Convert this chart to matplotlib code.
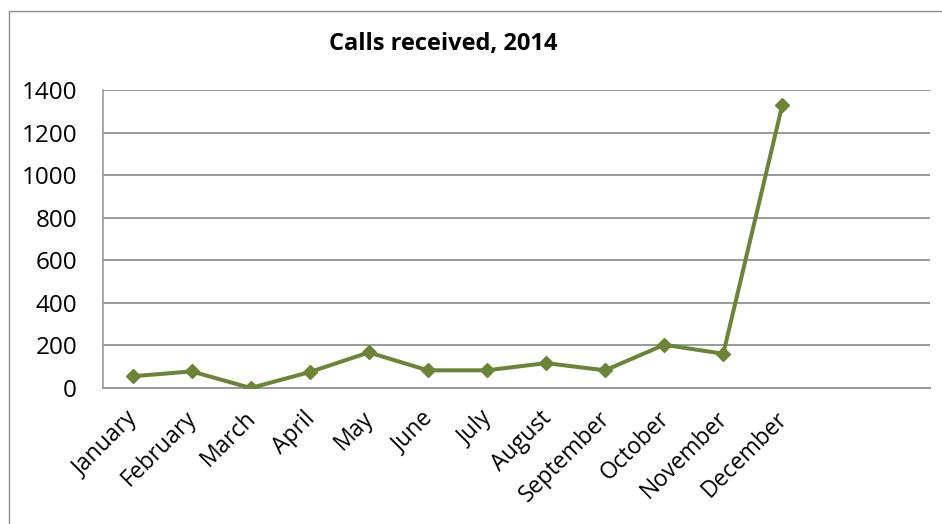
import matplotlib
matplotlib.use("Agg")
import matplotlib.pyplot as plt
import matplotlib.transforms as mtransforms
from matplotlib.patches import Rectangle

months = ["January", "February", "March", "April", "May", "June", "July",
          "August", "September", "October", "November", "December"]
calls = [55, 78, 0, 75, 167, 83, 83, 117, 83, 203, 161, 1330]
yticks = [0, 200, 400, 600, 800, 1000, 1200, 1400]

LINE = "#6a8535"
GRID = "#9a9a9a"

plt.rcParams["font.family"] = ["Open Sans", "DejaVu Sans"]

fig = plt.figure(figsize=(9.42, 5.24), dpi=100)
ax = fig.add_axes([103 / 942, 1 - 388 / 524, 827 / 942, 298 / 524])

# chart frame (cropped on the right and bottom)
fig.patches.append(Rectangle((9 / 942, -0.1), 1.2, 1 - 11 / 524 + 0.1,
                             transform=fig.transFigure, fill=False,
                             edgecolor="#8c8c8c", lw=1.0, zorder=0))

x = list(range(len(months)))
ax.plot(x, calls, color=LINE, lw=2.9, marker="D", markersize=7,
        markerfacecolor=LINE, markeredgecolor=LINE, zorder=3,
        solid_joinstyle="round")

ax.set_xlim(-0.5, 13.5)
ax.set_ylim(0, 1400)
ax.set_yticks(yticks)
ax.set_yticklabels([str(v) for v in yticks], fontsize=17.5)
ax.set_xticks(x)
ax.set_xticklabels(months, fontsize=16.5, rotation=45, ha="right",
                   rotation_mode="anchor")
ax.tick_params(axis="both", length=0)
ax.tick_params(axis="y", pad=18.7)
ax.tick_params(axis="x", pad=12)

# nudge the slanted month labels so their ends sit under the points
shift = mtransforms.ScaledTranslation(-7 / 100, -2 / 100, fig.dpi_scale_trans)
for lbl in ax.get_xticklabels():
    lbl.set_transform(lbl.get_transform() + shift)

ax.yaxis.grid(True, color=GRID, lw=1.4)
ax.set_axisbelow(True)
for side in ["top", "right"]:
    ax.spines[side].set_visible(False)
ax.spines["left"].set_color(GRID)
ax.spines["bottom"].set_color(GRID)
ax.spines["left"].set_linewidth(1.2)
ax.spines["bottom"].set_linewidth(1.4)

fig.text(443 / 942, 1 - 44 / 524, "Calls received, 2014", ha="center",
         va="center", fontsize=17, fontweight="bold")

fig.savefig("out.png", dpi=100)
